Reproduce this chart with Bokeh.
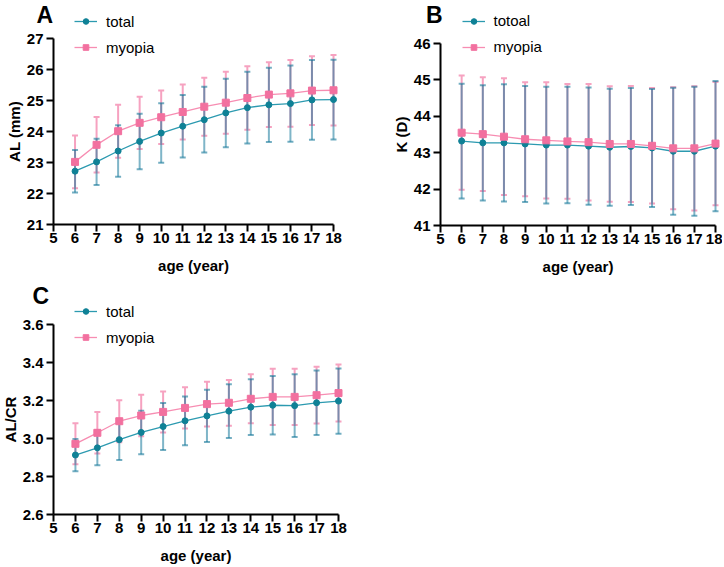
from bokeh.plotting import figure
from bokeh.layouts import column, row
from bokeh.models import Legend, LegendItem, Label, FixedTicker, Range1d
from bokeh.embed import file_html
from bokeh.resources import INLINE

# ---------------- data ----------------
ages = [6, 7, 8, 9, 10, 11, 12, 13, 14, 15, 16, 17, 18]

# Panel A: axial length (mm)
al_total_mean = [22.72, 23.02, 23.37, 23.68, 23.95, 24.17, 24.38, 24.60, 24.77, 24.86, 24.90, 25.02, 25.03]
al_total_sd = [0.685, 0.745, 0.83, 0.895, 0.96, 1.01, 1.06, 1.105, 1.16, 1.195, 1.23, 1.29, 1.285]
al_myopia_mean = [23.02, 23.57, 24.01, 24.28, 24.46, 24.63, 24.80, 24.93, 25.08, 25.19, 25.23, 25.32, 25.33]
al_myopia_sd = [0.85, 0.895, 0.855, 0.845, 0.865, 0.885, 0.935, 1.0, 1.025, 1.045, 1.08, 1.11, 1.14]

# Panel B: corneal power K (D)
k_total_mean = [43.32, 43.27, 43.27, 43.24, 43.21, 43.21, 43.18, 43.15, 43.17, 43.13, 43.04, 43.04, 43.18]
k_total_sd = [1.575, 1.585, 1.61, 1.595, 1.605, 1.60, 1.61, 1.605, 1.605, 1.62, 1.745, 1.775, 1.79]
k_myopia_mean = [43.55, 43.51, 43.44, 43.37, 43.34, 43.31, 43.29, 43.24, 43.24, 43.19, 43.12, 43.12, 43.25]
k_myopia_sd = [1.57, 1.565, 1.605, 1.565, 1.595, 1.575, 1.60, 1.585, 1.595, 1.585, 1.675, 1.705, 1.695]

# Panel C: AL/CR ratio
r_total_mean = [2.913, 2.951, 2.994, 3.032, 3.063, 3.093, 3.119, 3.144, 3.165, 3.175, 3.173, 3.188, 3.197]
r_total_sd = [0.085, 0.092, 0.107, 0.1145, 0.124, 0.128, 0.1375, 0.141, 0.147, 0.1545, 0.165, 0.17, 0.172]
r_myopia_mean = [2.972, 3.030, 3.091, 3.121, 3.140, 3.161, 3.181, 3.188, 3.209, 3.219, 3.219, 3.228, 3.239]
r_myopia_sd = [0.108, 0.1095, 0.1105, 0.1095, 0.108, 0.1085, 0.1175, 0.1205, 0.129, 0.148, 0.148, 0.149, 0.15]

x_ticks = list(range(5, 19))
al_ticks = [21, 22, 23, 24, 25, 26, 27]
k_ticks = [41, 42, 43, 44, 45, 46]
r_ticks = [2.6, 2.8, 3.0, 3.2, 3.4, 3.6]
r_tick_labels = {2.6: "2.6", 2.8: "2.8", 3.0: "3.0", 3.2: "3.2", 3.4: "3.4", 3.6: "3.6"}

# ---------------- style ----------------
TEAL_DOT = "#0f8196"
TEAL_LINE = "#2c9ab0"
TEAL_BAR = "#16789a"
PINK_DOT = "#f2709f"
PINK_LINE = "#f78db2"
PINK_BAR = "#f6a2c0"
FONT = "Liberation Sans"


def make_panel(letter, ylabel, xlim, ylim, yticks, total_mean, total_sd, myo_mean, myo_sd,
               total_name, size, axis_px, letter_pos, legend_pos, ytick_overrides=None):
    W, H = size
    # axis_px: screen positions (from top-left of figure) of the axis ends
    xl, xr, yt, yb = axis_px
    xppu = (xr - xl) / (xlim[1] - xlim[0])
    yppu = (yb - yt) / (ylim[1] - ylim[0])
    x_start = xlim[0] - xl / xppu
    x_end = xlim[0] + (W - xl) / xppu
    y_end = ylim[1] + yt / yppu
    y_start = ylim[0] - (H - yb) / yppu

    p = figure(width=W, height=H, min_border=0,
               x_range=Range1d(x_start, x_end), y_range=Range1d(y_start, y_end),
               output_backend="svg", toolbar_location=None)
    p.outline_line_color = None
    p.grid.visible = False
    p.background_fill_color = "white"
    p.border_fill_color = "white"

    for ax in (p.xaxis[0], p.yaxis[0]):
        ax.axis_line_width = 2
        ax.axis_line_color = "black"
        ax.major_tick_line_width = 2
        ax.major_tick_line_color = "black"
        ax.major_tick_out = 7
        ax.major_tick_in = 0
        ax.minor_tick_line_color = None
        ax.major_label_text_font = FONT
        ax.major_label_text_font_style = "bold"
        ax.major_label_text_font_size = "15px"
        ax.major_label_text_color = "black"
        ax.axis_label_text_font = FONT
        ax.axis_label_text_font_style = "bold"
        ax.axis_label_text_font_size = "15px"
        ax.axis_label_text_color = "black"

    p.xaxis.fixed_location = ylim[0]
    p.yaxis.fixed_location = xlim[0]
    p.xaxis.ticker = FixedTicker(ticks=x_ticks)
    p.xaxis.bounds = xlim
    p.xaxis.axis_label = "age (year)"
    p.xaxis.major_label_standoff = 1
    p.xaxis.axis_label_standoff = 11
    p.yaxis.ticker = FixedTicker(ticks=yticks)
    p.yaxis.bounds = ylim
    p.yaxis.axis_label = ylabel
    p.yaxis.major_label_standoff = 3
    p.yaxis.axis_label_standoff = 1
    if ytick_overrides:
        p.yaxis.major_label_overrides = ytick_overrides

    lo_m = [m - s for m, s in zip(myo_mean, myo_sd)]
    hi_m = [m + s for m, s in zip(myo_mean, myo_sd)]
    lo_t = [m - s for m, s in zip(total_mean, total_sd)]
    hi_t = [m + s for m, s in zip(total_mean, total_sd)]

    # myopia error bars
    p.segment(x0=ages, y0=lo_m, x1=ages, y1=hi_m, line_color=PINK_BAR, line_width=2)
    p.scatter(x=ages + ages, y=lo_m + hi_m, marker="dash", size=6,
              line_color=PINK_BAR, line_width=2)
    # total error bars (translucent so overlap darkens)
    p.segment(x0=ages, y0=lo_t, x1=ages, y1=hi_t, line_color=TEAL_BAR, line_width=2,
              line_alpha=0.55)
    p.scatter(x=ages + ages, y=lo_t + hi_t, marker="dash", size=6,
              line_color=TEAL_BAR, line_width=2, line_alpha=0.6)

    lt = p.line(ages, total_mean, line_color=TEAL_LINE, line_width=1.3)
    st = p.scatter(ages, total_mean, marker="circle", size=6,
                   fill_color=TEAL_DOT, line_color=TEAL_DOT)
    lm = p.line(ages, myo_mean, line_color=PINK_LINE, line_width=1.3)
    sm = p.scatter(ages, myo_mean, marker="square", size=7,
                   fill_color=PINK_DOT, line_color=PINK_DOT)

    legend = Legend(items=[LegendItem(label=total_name, renderers=[lt, st]),
                           LegendItem(label="myopia", renderers=[lm, sm])],
                    location=legend_pos, orientation="vertical",
                    glyph_width=23, glyph_height=14, label_height=20,
                    label_standoff=9, spacing=6, padding=0, margin=0,
                    background_fill_alpha=0, border_line_alpha=0,
                    label_text_font=FONT, label_text_font_size="15px",
                    label_text_color="black")
    p.add_layout(legend, "center")

    p.add_layout(Label(x=letter_pos[0], y=letter_pos[1], x_units="screen", y_units="screen",
                       text=letter, text_font=FONT, text_font_style="bold",
                       text_font_size="23px", text_color="black",
                       text_baseline="alphabetic", text_align="left"))
    return p


pA = make_panel("A", "AL (mm)", (5, 18), (21, 27), al_ticks, al_total_mean, al_total_sd,
                al_myopia_mean, al_myopia_sd, "total",
                (362, 280), (53, 333, 38, 224), (36, 266), (74, 223))
pB = make_panel("B", "K (D)", (5, 18), (41, 46), k_ticks, k_total_mean, k_total_sd,
                k_myopia_mean, k_myopia_sd, "totoal",
                (360, 280), (78, 353, 43, 225), (63.5, 265.3), (99.5, 223.3))
pC = make_panel("C", "AL/CR", (5, 18), (2.6, 3.6), r_ticks, r_total_mean, r_total_sd,
                r_myopia_mean, r_myopia_sd, "total",
                (362, 285), (53, 338, 44, 234), (32, 269.3), (74, 217.7),
                ytick_overrides=r_tick_labels)

layout = column(row(pA, pB), pC)

open("out.html", "w").write(file_html(layout, INLINE))
